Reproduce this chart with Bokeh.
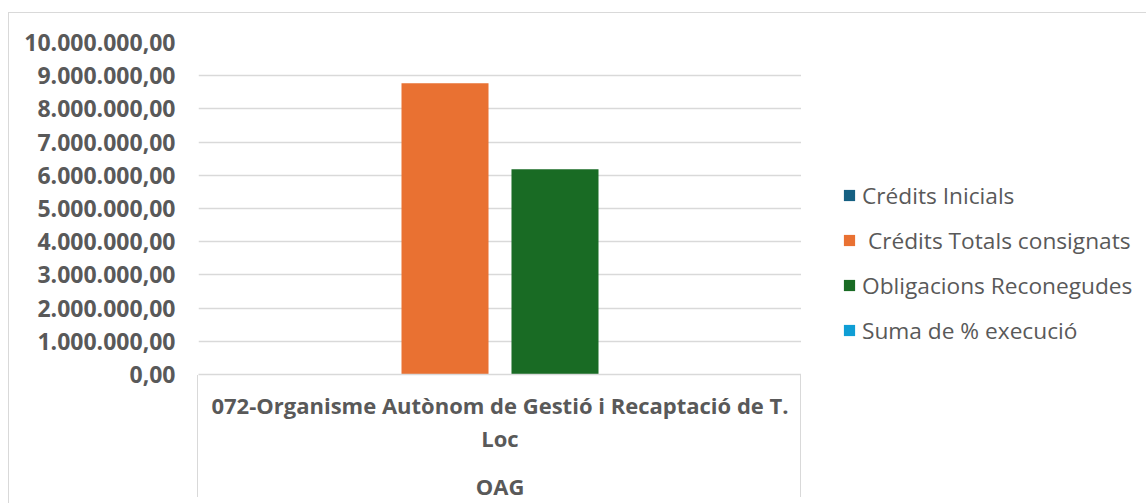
from bokeh.plotting import figure
from bokeh.layouts import row
from bokeh.models import (FactorRange, FixedTicker, Legend, LegendItem,
                          ColumnDataSource, InlineStyleSheet, Range1d)
from bokeh.transform import dodge
from bokeh.embed import file_html
from bokeh.resources import INLINE
from bokeh.core.properties import value

# ---- data ----
groups = ["OAG"]
entities = ["072-Organisme Autònom de Gestió i Recaptació de T.\nLoc"]
series_labels = ["Crédits Inicials", " Crédits Totals consignats",
                 "Obligacions Reconegudes", "Suma de % execució"]
credits_inicials = [0.0]
credits_totals = [8770000.0]
obligacions_reconegudes = [6185000.0]
pct_execucio = [70.5]
y_ticks = [0, 1000000, 2000000, 3000000, 4000000, 5000000,
           6000000, 7000000, 8000000, 9000000, 10000000]
y_tick_labels = ["0,00", "1.000.000,00", "2.000.000,00", "3.000.000,00",
                 "4.000.000,00", "5.000.000,00", "6.000.000,00",
                 "7.000.000,00", "8.000.000,00", "9.000.000,00",
                 "10.000.000,00"]
colors = ["#156082", "#E97132", "#196B24", "#0F9ED5"]

FONT = "Open Sans"
TXT = "#595959"
GRID = "#d9d9d9"

factors = list(zip(groups, entities))
src = ColumnDataSource(dict(x=factors, s0=credits_inicials, s1=credits_totals,
                            s2=obligacions_reconegudes, s3=pct_execucio))

p = figure(x_range=FactorRange(*factors, range_padding=0),
           y_range=(0, 10000000), width=801, height=503,
           output_backend="svg", toolbar_location=None,
           min_border_left=198, min_border_right=0,
           min_border_top=42, min_border_bottom=128)
p.outline_line_color = None
p.background_fill_color = "white"
p.border_fill_color = "white"

offsets = [-0.2736, -0.0912, 0.0912, 0.2736]
bar_w = 0.1443
for i in range(4):
    p.vbar(x=dodge("x", offsets[i], range=p.x_range), top="s%d" % i,
           width=bar_w, source=src, fill_color=colors[i], line_color=None)

# y axis
p.yaxis.ticker = FixedTicker(ticks=y_ticks)
p.yaxis.major_label_overrides = {t: l for t, l in zip(y_ticks, y_tick_labels)}
p.yaxis.axis_line_color = None
p.yaxis.major_tick_line_color = None
p.yaxis.minor_tick_line_color = None
p.yaxis.major_tick_out = 0
p.yaxis.major_tick_in = 0
p.yaxis.major_label_standoff = 23
p.yaxis.major_label_text_font = FONT
p.yaxis.major_label_text_font_style = "bold"
p.yaxis.major_label_text_font_size = "23px"
p.yaxis.major_label_text_color = TXT
p.ygrid.grid_line_color = GRID
p.ygrid.grid_line_width = 1.3
p.xgrid.grid_line_color = None

# x axis (two-level categories)
p.xaxis.axis_line_color = GRID
p.xaxis.axis_line_width = 1.3
p.xaxis.major_tick_line_color = None
p.xaxis.minor_tick_line_color = None
p.xaxis.major_tick_out = 0
p.xaxis.major_tick_in = 0
p.xaxis.separator_line_color = None
p.xaxis.major_label_standoff = 15
p.xaxis.major_label_orientation = "horizontal"
p.xaxis.major_label_text_font = FONT
p.xaxis.major_label_text_font_style = "bold"
p.xaxis.major_label_text_font_size = "22px"
p.xaxis.major_label_text_line_height = 1.1
p.xaxis.major_label_text_color = TXT
p.xaxis.group_text_font = FONT
p.xaxis.group_text_font_style = "bold"
p.xaxis.group_text_font_size = "22px"
p.xaxis.group_text_color = TXT

# legend panel: same series and styling; its bars have no width so only the legend shows
lg = figure(width=345, height=503, x_range=p.x_range, y_range=Range1d(-2, -1),
            x_axis_type=None, y_axis_type=None, output_backend="svg",
            toolbar_location=None, min_border=0)
lg.outline_line_color = None
lg.background_fill_color = "white"
lg.border_fill_color = "white"
lg.grid.visible = False
items = []
for i in range(4):
    r = lg.vbar(x=dodge("x", offsets[i], range=lg.x_range), top="s%d" % i,
                width=0, source=src, fill_color=colors[i], line_color=None)
    items.append(LegendItem(label=value(series_labels[i]), renderers=[r]))

legend = Legend(items=items, location=(41, 28.5), orientation="vertical",
                glyph_width=14, glyph_height=14, label_standoff=6,
                label_height=30, spacing=14, padding=0, margin=0,
                border_line_color=None, background_fill_alpha=0,
                label_text_font=FONT, label_text_font_size="22.7px",
                label_text_color=TXT)
lg.add_layout(legend)

layout = row(p, lg, spacing=0)

# chart-area border and category-axis box (page decoration)
layout.stylesheets = [InlineStyleSheet(css="""
:host { position: relative; }
:host::after { content: ''; position: absolute; left: 8px; top: 12px; right: 0; bottom: 0;
  border-left: 1.5px solid #d9d9d9; border-top: 1.5px solid #d9d9d9; pointer-events: none; z-index: 3; }
:host::before { content: ''; position: absolute; left: 197px; top: 375px; width: 602px; height: 122px;
  border-left: 1.5px solid #d9d9d9; border-right: 1.5px solid #d9d9d9; pointer-events: none; z-index: 3; }
""")]

open("out.html", "w").write(file_html(layout, INLINE))
